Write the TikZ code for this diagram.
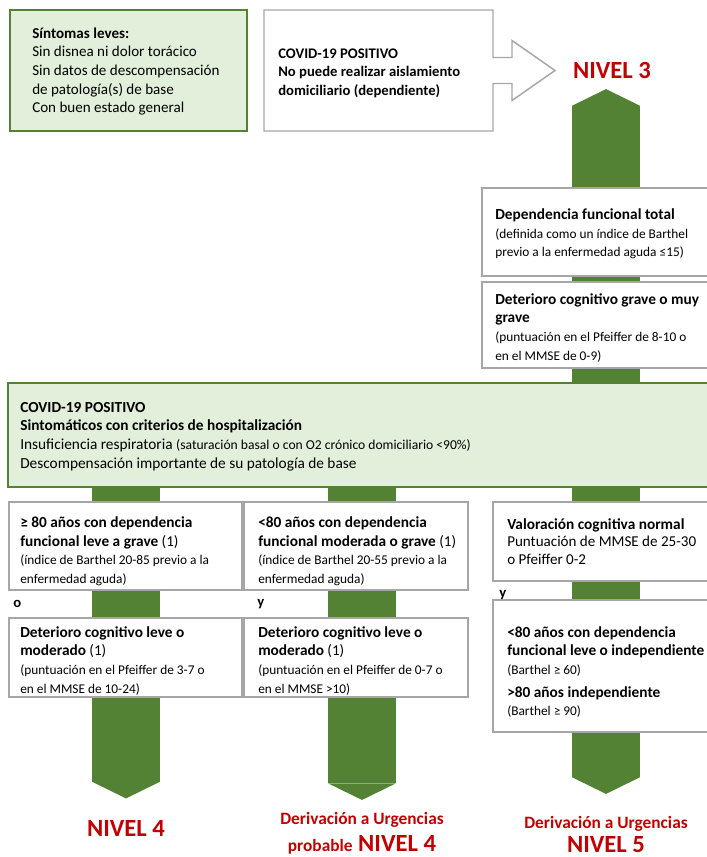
\documentclass[tikz,border=0pt]{standalone}
\usepackage{fontspec}
\setmainfont{Carlito}
\usetikzlibrary{positioning,arrows.meta,backgrounds}

\definecolor{arrowgreen}{HTML}{548235}
\definecolor{palegreen}{HTML}{E2EFDA}
\definecolor{boxgray}{HTML}{A6A6A6}
\definecolor{nivelred}{HTML}{C00000}

\newcommand*{\sm}{\fontsize{10}{12.75}\selectfont}
\newcommand*{\hd}{\fontsize{11.5}{15}\selectfont\bfseries}

\tikzset{
  greenbox/.style={draw=arrowgreen, fill=palegreen, line width=1.5pt,
                   anchor=north west, outer sep=0pt},
  graybox/.style={draw=boxgray, fill=white, line width=1.2pt,
                  anchor=north west, outer sep=0pt},
  boxtext/.style={align=left, inner sep=0pt, anchor=west,
                  font=\fontsize{11.3}{14}\selectfont},
  joiner/.style={inner sep=0pt, anchor=west, font=\fontsize{11}{13}\selectfont\bfseries},
  nivel/.style={text=nivelred, inner sep=0pt, align=center,
                font=\fontsize{18.5}{20}\selectfont\bfseries},
  bigarrow/.style={draw=arrowgreen, line width=51pt,
                   -{Triangle[length=12.5pt, width=51pt, line width=0pt]}}
}

\begin{document}
\begin{tikzpicture}[x=0.75pt, y=-0.75pt]
\useasboundingbox (0,0) rectangle (707,857);

% Top row
\draw (10,10) node [greenbox, minimum width=177.75pt, minimum height=90.75pt] (mild) {};
\node [boxtext, right=16.5pt of mild.west, yshift=-0.75pt] (mildtext)
  {\textbf{Síntomas leves:}\\ Sin disnea ni dolor torácico\\ Sin datos de descompensación\\
   de patología(s) de base\\ Con buen estado general};

\draw (264,10) node [anchor=north west, outer sep=0pt, minimum width=171.75pt,
                     minimum height=90.75pt] (covid) {};
\draw [boxgray, line width=1.1pt, line join=miter]
  (covid.north west) -- (covid.north east) -- ++(0,47.5) -- ++(19,0) -- ++(0,-17)
  -- ++(43,30) -- ++(-43,30) -- ++(0,-17) -- ++(-19,0)
  -- (covid.south east) -- (covid.south west) -- cycle;
\node [boxtext, right=10.5pt of covid.west, yshift=-2pt,
       font=\fontsize{11}{14}\selectfont\bfseries] (covidtext)
  {COVID-19 POSITIVO\\ No puede realizar aislamiento\\ domiciliario (dependiente)};

\node [nivel] (nivel3) at (612,70) {NIVEL 3};

% Right column, level 3 criteria
\draw (482,188) node [graybox, minimum width=172.5pt, minimum height=66pt] (total) {};
\node [boxtext, right=9.75pt of total.west, yshift=-1.5pt] (totaltext)
  {\hd Dependencia funcional total\\
   \sm (definida como un índice de Barthel\\ \sm previo a la enfermedad aguda ≤15)};

\draw (482,282) node [graybox, minimum width=172.5pt, minimum height=64.5pt] (severe) {};
\node [boxtext, right=9.75pt of severe.west, yshift=-2pt] (severetext)
  {\hd Deterioro cognitivo grave o muy\\ \hd grave\\
   \sm (puntuación en el Pfeiffer de 8-10 o\\ \sm en el MMSE de 0-9)};

% Hospitalisation band
\draw (8,383) node [greenbox, minimum width=532.5pt, minimum height=78pt] (band) {};
\node [boxtext, right=9pt of band.west, yshift=-1pt, font=\fontsize{11.5}{14}\selectfont] (bandtext)
  {\textbf{COVID-19 POSITIVO}\\ \textbf{Sintomáticos con criterios de hospitalización}\\
   Insuficiencia respiratoria {\fontsize{10.2}{12}\selectfont(saturación basal o con O2 crónico domiciliario <90\%)}\\
   Descompensación importante de su patología de base};

% Left column
\draw (9,502) node [graybox, minimum width=174.75pt, minimum height=66pt] (old) {};
\node [boxtext, right=8.25pt of old.west, yshift=-4pt] (oldtext)
  {\hd ≥ 80 años con dependencia\\ {\hd funcional leve a grave} (1)\\
   \sm (índice de Barthel 20-85 previo a la\\ \sm enfermedad aguda)};
\node [joiner] (orleft) at (13,604) {o};
\draw (9,618) node [graybox, minimum width=174.75pt, minimum height=59.25pt] (mildcog) {};
\node [boxtext, right=8.25pt of mildcog.west, yshift=-2.5pt] (mildcogtext)
  {\hd Deterioro cognitivo leve o\\ {\hd moderado} (1)\\
   \sm (puntuación en el Pfeiffer de 3-7 o\\ \sm en el MMSE de 10-24)};

% Middle column
\draw (244,502) node [graybox, minimum width=168pt, minimum height=66pt] (young) {};
\node [boxtext, right=10.5pt of young.west, yshift=-4pt] (youngtext)
  {\hd <80 años con dependencia\\ {\hd funcional moderada o grave} (1)\\
   \sm (índice de Barthel 20-55 previo a la\\ \sm enfermedad aguda)};
\node [joiner] (andmid) at (257,604) {y};
\draw (244,618) node [graybox, minimum width=168pt, minimum height=59.25pt] (midcog) {};
\node [boxtext, right=10.5pt of midcog.west, yshift=-2.5pt] (midcogtext)
  {\hd Deterioro cognitivo leve o\\ {\hd moderado} (1)\\
   \sm (puntuación en el Pfeiffer de 0-7 o\\ \sm en el MMSE >10)};

% Right column
\draw (493,502) node [graybox, minimum width=165pt, minimum height=59.25pt] (normal) {};
\node [boxtext, right=10.5pt of normal.west, font=\fontsize{11.3}{13}\selectfont] (normaltext)
  {\hd Valoración cognitiva normal\\ Puntuación de MMSE de 25-30\\ o Pfeiffer 0-2};
\node [joiner] (andright) at (499,595) {y};
\draw (493,600) node [graybox, minimum width=165pt, minimum height=99pt] (indep) {};
\node [boxtext, right=10.5pt of indep.west, yshift=-4.5pt] (indeptext)
  {\hd <80 años con dependencia\\ \hd funcional leve o independiente\\
   \sm (Barthel ≥ 60)\\[3pt] \hd >80 años independiente\\ \sm (Barthel ≥ 90)};

% Outcomes
\node [nivel] (nivel4) at (126,828) {NIVEL 4};
\node [nivel] (urgmid) at (362,833)
  {{\fontsize{13}{15}\selectfont Derivación a Urgencias}\\[0pt]
   {\fontsize{13}{15}\selectfont probable} NIVEL 4};
\node [nivel] (urgright) at (606,834)
  {{\fontsize{13}{15}\selectfont Derivación a Urgencias}\\[-2pt] NIVEL 5};

% Green arrows behind the boxes
\begin{scope}[on background layer]
\draw [bigarrow, shorten >=8pt] (band.north -| urgright) -- (urgright |- nivel3.south);
\draw [bigarrow, shorten >=16pt] (band.south -| nivel4) -- (nivel4.north);
\draw [bigarrow, shorten >=9pt] (band.south -| urgmid) -- (urgmid.north);
\draw [bigarrow, shorten >=16.25pt] (band.south -| urgright) -- (urgright.north);
\end{scope}
\end{tikzpicture}
\end{document}
